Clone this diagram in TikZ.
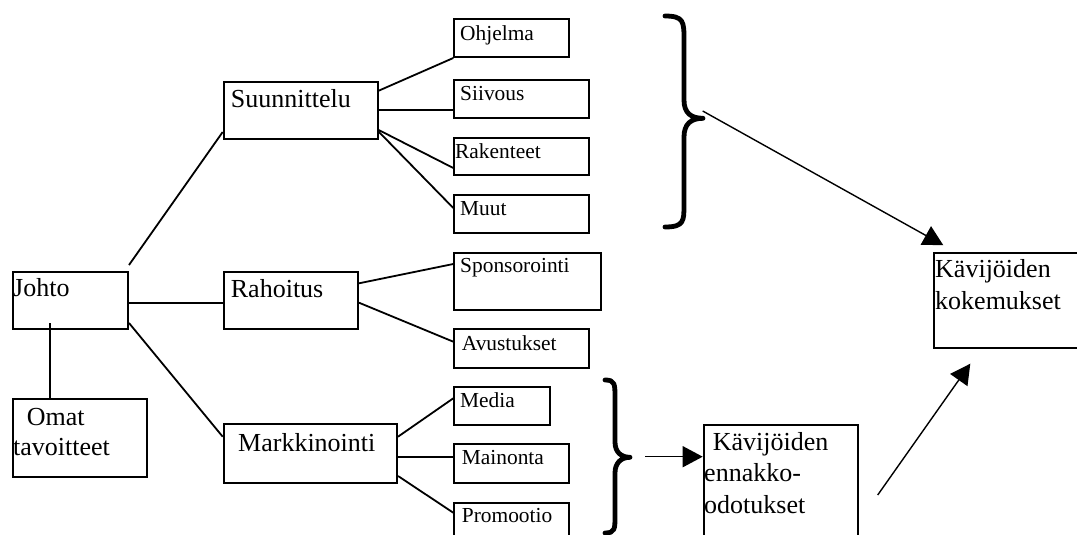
\documentclass[tikz,border=0pt]{standalone}
\usepackage{fontspec}
\setmainfont{Liberation Serif}
\usetikzlibrary{calc,arrows.meta}

\tikzset{
  box/.style={draw, line width=2pt, rectangle, inner sep=0pt, anchor=north west},
  big/.style={inner sep=0pt, anchor=base west, font=\fontsize{26}{31}\selectfont},
  small/.style={inner sep=0pt, anchor=base west, font=\fontsize{21.4}{25}\selectfont},
  link/.style={line width=1.8pt},
  brace/.style={line width=4.8pt, line cap=round, line join=round},
  flow/.style={line width=1.4pt, -{Triangle[length=20pt,width=21pt]}},
}

\begin{document}
\begin{tikzpicture}[x=1pt, y=-1pt]
\useasboundingbox (0,0) rectangle (1077,535);

% --- boxes -------------------------------------------------------------
\node[box, minimum width=115pt,   minimum height=57pt]   (johto) at (12,271) {};
\node[box, minimum width=134pt,   minimum height=78pt]   (omat)  at (12,398) {};
\node[box, minimum width=154pt,   minimum height=57pt]   (suun)  at (222.7,81) {};
\node[box, minimum width=134.3pt, minimum height=57.3pt] (rah)   at (222.7,271) {};
\node[box, minimum width=173.3pt, minimum height=58.4pt] (mark)  at (222.7,423.3) {};

\node[box, minimum width=115pt,   minimum height=37.7pt] (ohj)   at (453.3,18.3) {};
\node[box, minimum width=135pt,   minimum height=38.3pt] (siiv)  at (453.3,79) {};
\node[box, minimum width=135pt,   minimum height=37.6pt] (rak)   at (453.3,136.7) {};
\node[box, minimum width=135pt,   minimum height=38pt]   (muut)  at (453.3,194.3) {};
\node[box, minimum width=146.7pt, minimum height=57.3pt] (spon)  at (453.3,251.7) {};
\node[box, minimum width=134.4pt, minimum height=38.4pt] (avu)   at (453.3,328.3) {};
\node[box, minimum width=96pt,    minimum height=38.3pt] (media) at (453.3,386) {};
\node[box, minimum width=115pt,   minimum height=38.4pt] (main)  at (453.3,443.3) {};
\node[box, minimum width=115pt,   minimum height=45pt]   (promo) at (453.3,501.7) {};

\node[box, minimum width=154pt,   minimum height=130pt]  (enn)   at (702.7,424.3) {};
\node[box, minimum width=160pt,   minimum height=95.6pt] (kok)   at (933.3,251.7) {};

% --- labels ------------------------------------------------------------
\node[big] (johto-t) at (13,296.7) {Johto};
\node[big] (omat-t1) at (26.7,425.7) {Omat};
\node[big] (omat-t2) at (13,455) {tavoitteet};
\node[big] (suun-t)  at (230.7,107) {Suunnittelu};
\node[big] (rah-t)   at (230.7,297.3) {Rahoitus};
\node[big] (mark-t)  at (238,451.5) {Markkinointi};

\node[small] (ohj-t)   at (460,40.7)   {Ohjelma};
\node[small] (siiv-t)  at (460,100)    {Siivous};
\node[small] (rak-t)   at (455,158.3)  {Rakenteet};
\node[small] (muut-t)  at (460,215.7)  {Muut};
\node[small] (spon-t)  at (460,272.7)  {Sponsorointi};
\node[small] (avu-t)   at (461.7,350)  {Avustukset};
\node[small] (media-t) at (460,407.3)  {Media};
\node[small] (main-t)  at (461.7,464.3) {Mainonta};
\node[small] (promo-t) at (461.7,522.7) {Promootio};

\node[big] (enn-t1) at (712.7,450.7) {Kävijöiden};
\node[big] (enn-t2) at (704,481.7)   {ennakko-};
\node[big] (enn-t3) at (704,513.3)   {odotukset};
\node[big] (kok-t1) at (935,277.3)   {Kävijöiden};
\node[big] (kok-t2) at (935,309)     {kokemukset};

% --- tree links --------------------------------------------------------
\draw[link] ($(johto.north east)+(0,-6)$)   -- ($(suun.south west)+(0,-8)$);
\draw[link] ($(johto.north east)+(0,31.7)$) -- ($(rah.north west)+(0,31.7)$);
\draw[link] ($(johto.north east)+(0,52)$)   -- ($(mark.north west)+(0,13.4)$);
\draw[link] ($(johto.north west)+(38,52)$)  -- ($(omat.north west)+(38,0)$);

\draw[link] ($(suun.north east)+(0,9.7)$)  -- (ohj.south west);
\draw[link] ($(suun.north east)+(0,29)$)   -- ($(siiv.north west)+(0,31)$);
\draw[link] ($(suun.north east)+(0,49)$)   -- ($(rak.north west)+(0,31.3)$);
\draw[link] ($(suun.north east)+(0,50.7)$) -- ($(muut.north west)+(0,13.7)$);

\draw[link] ($(rah.north east)+(0,12.3)$) -- ($(spon.north west)+(0,12.3)$);
\draw[link] ($(rah.north east)+(0,31.7)$) -- ($(avu.north west)+(0,13.4)$);

\draw[link] ($(mark.north east)+(0,13.4)$) -- ($(media.north west)+(0,12.3)$);
\draw[link] ($(mark.north east)+(0,34)$)   -- ($(main.north west)+(0,14)$);
\draw[link] ($(mark.north east)+(0,52.7)$) -- ($(promo.north west)+(0,11)$);

% --- braces ------------------------------------------------------------
\draw[brace] (665,16) .. controls (684,16) and (684,22) .. (684,40)
  -- (684,100) .. controls (684,113) and (691,118.3) .. (703,118.3)
  .. controls (691,118.3) and (684,124) .. (684,137)
  -- (684,205) .. controls (684,221) and (684,227) .. (665,227);
\coordinate (bigtip) at (702.7,111);

\draw[brace] (605,380) .. controls (615,380) and (615,384) .. (615,398)
  -- (615,442) .. controls (615,452) and (621,457.3) .. (630,457.3)
  .. controls (621,457.3) and (615,463) .. (615,473)
  -- (615,516) .. controls (615,529) and (615,533) .. (605,533);
\coordinate (smalltip) at (645,456.7);

% --- arrows ------------------------------------------------------------
\draw[flow] (bigtip) -- ($(kok.north west)+(10,-6.5)$);
\draw[flow] (smalltip) -- ($(enn.north west)+(0,32.4)$);
\draw[flow] ($(enn.north east)+(19,70.7)$) -- ($(kok.south west)+(37,14.4)$);
\end{tikzpicture}
\end{document}
